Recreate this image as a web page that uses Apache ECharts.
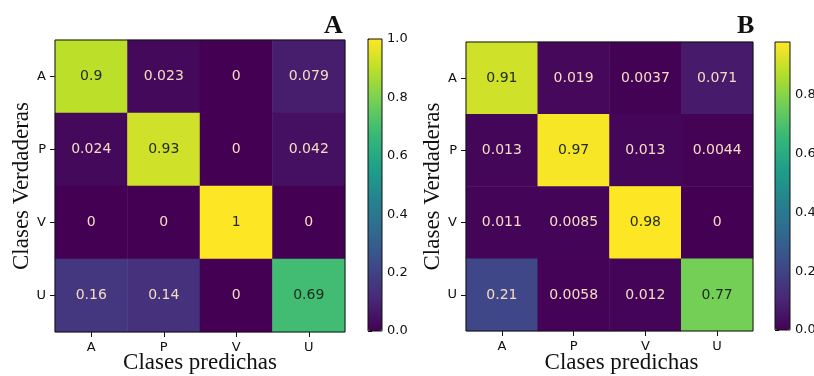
<!DOCTYPE html>
<html>
<head>
<meta charset="utf-8">
<script src="https://cdn.jsdelivr.net/npm/echarts@6/dist/echarts.min.js"></script>
<style>
  html, body { margin: 0; padding: 0; background: #fff; }
  #chart { width: 814px; height: 376px; }
</style>
</head>
<body>
<div id="chart"></div>
<script>
// clases (filas = verdaderas, columnas = predichas)
var clases = ['A', 'P', 'V', 'U'];

var matrizA = [
    [0.9, 0.023, 0, 0.079],
    [0.024, 0.93, 0, 0.042],
    [0, 0, 1, 0],
    [0.16, 0.14, 0, 0.69]
];
var matrizB = [
    [0.91, 0.019, 0.0037, 0.071],
    [0.013, 0.97, 0.013, 0.0044],
    [0.011, 0.0085, 0.98, 0],
    [0.21, 0.0058, 0.012, 0.77]
];
var escalaA = [0, 1];
var escalaB = [0, 0.98];

var viridis = ['#440154', '#482878', '#3e4989', '#31688e', '#26828e',
               '#1f9e89', '#35b779', '#6ece58', '#b5de2b', '#fde725'];

function celdas(m, escala) {
    var umbral = (escala[0] + escala[1]) / 2;
    var out = [];
    for (var i = 0; i < m.length; i++) {
        for (var j = 0; j < m[i].length; j++) {
            var d = [j, i, m[i][j]];
            // texto oscuro sobre celdas claras
            out.push(d[2] > umbral ? { value: d, label: { color: '#1d2a1c' } } : d);
        }
    }
    return out;
}

function serieHeat(idx, m, escala) {
    return {
        type: 'heatmap',
        xAxisIndex: idx, yAxisIndex: idx,
        data: celdas(m, escala),
        label: {
            show: true,
            fontFamily: 'DejaVu Sans',
            fontSize: 14,
            formatter: function (p) { return String(p.value[2]); },
            color: '#f4dcc0'
        },
        emphasis: { disabled: true },
        itemStyle: { borderWidth: 0 }
    };
}

function ejeCat(extra) {
    return Object.assign({
        type: 'category',
        data: clases,
        nameLocation: 'middle',
        nameMoveOverlap: false,
        nameTextStyle: { fontFamily: 'Liberation Serif', fontSize: 23, color: '#111' },
        axisLine: { show: false },
        axisTick: { show: true, alignWithLabel: true, length: 5, lineStyle: { color: '#111' } },
        axisLabel: { fontFamily: 'DejaVu Sans', fontSize: 13, color: '#111', margin: 9 },
        splitLine: { show: false }
    }, extra);
}

function ejeBarra(idx, escala) {
    return {
        type: 'value', gridIndex: idx, position: 'right',
        min: escala[0], max: escala[1], interval: 0.2,
        axisLine: { show: false }, splitLine: { show: false },
        axisTick: { show: true, length: 4, lineStyle: { color: '#111' } },
        axisLabel: { fontFamily: 'DejaVu Sans', fontSize: 13, color: '#111', margin: 5, showMaxLabel: escala[1] === 1,
                     formatter: function (v) { return v.toFixed(1); } }
    };
}

var marco = { show: true, z: 10, backgroundColor: 'transparent', borderColor: '#111', borderWidth: 1,
              containLabel: false, outerBoundsMode: 'none' };

var myChart = echarts.init(document.getElementById('chart'));
option = {
    backgroundColor: '#fff',
    animation: false,
    title: [
        { text: 'A', left: 319, top: 8, textStyle: { fontFamily: 'Liberation Serif', fontWeight: 'bold', fontSize: 26, color: '#111' } },
        { text: 'B', left: 732, top: 8, textStyle: { fontFamily: 'Liberation Serif', fontWeight: 'bold', fontSize: 26, color: '#111' } }
    ],
    grid: [
        Object.assign({ left: 55, top: 40, width: 290, height: 292 }, marco),
        Object.assign({ left: 466, top: 42, width: 287, height: 289 }, marco),
        Object.assign({ left: 368, top: 39, width: 14, height: 292 }, marco),
        Object.assign({ left: 775, top: 42, width: 15, height: 288 }, marco)
    ],
    xAxis: [
        ejeCat({ gridIndex: 0, name: 'Clases predichas', nameGap: 19 }),
        ejeCat({ gridIndex: 1, name: 'Clases predichas', nameGap: 20,
                 nameTextStyle: { fontFamily: 'Liberation Serif', fontSize: 23, color: '#111', padding: [0, 0, 0, 24] } }),
        { type: 'value', gridIndex: 2, show: false },
        { type: 'value', gridIndex: 3, show: false }
    ],
    yAxis: [
        ejeCat({ gridIndex: 0, inverse: true, name: 'Clases Verdaderas', nameGap: 22 }),
        ejeCat({ gridIndex: 1, inverse: true, name: 'Clases Verdaderas', nameGap: 22 }),
        ejeBarra(2, escalaA),
        ejeBarra(3, escalaB)
    ],
    visualMap: [
        { type: 'continuous', seriesIndex: 0, dimension: 2, min: escalaA[0], max: escalaA[1], calculable: false, hoverLink: false,
          left: 368, top: 39, itemWidth: 14, itemHeight: 292, padding: 0, showLabel: false, text: null,
          inRange: { color: viridis } },
        { type: 'continuous', seriesIndex: 1, dimension: 2, min: escalaB[0], max: escalaB[1], calculable: false, hoverLink: false,
          left: 775, top: 42, itemWidth: 15, itemHeight: 288, padding: 0, showLabel: false, text: null,
          inRange: { color: viridis } }
    ],
    series: [
        serieHeat(0, matrizA, escalaA),
        serieHeat(1, matrizB, escalaB)
    ]
};
// 使用刚指定的配置项和数据显示图表。
myChart.setOption(option);
</script>
</body>
</html>
